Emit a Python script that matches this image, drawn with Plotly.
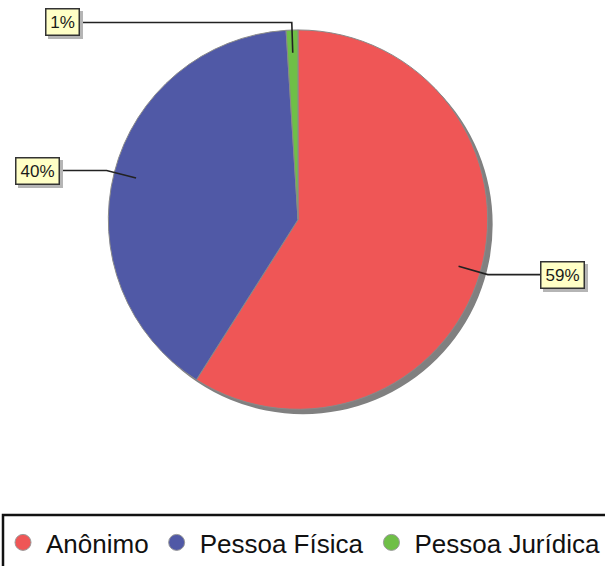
import math
import plotly.graph_objects as go

# data
categories = ["Anônimo", "Pessoa Física", "Pessoa Jurídica"]
values = [59, 40, 1]
labels = ["59%", "40%", "1%"]
colors = ["#EF5656", "#5059A6", "#6FBF47"]

W, H = 605, 566
cx, cy, R = 298, 220, 190          # pie centre / radius in px
shadow_dx, shadow_dy = 5, 5
label_end_x = [540, 60, 80]       # where the horizontal leader ends (px)
label_w = [36, 36, 26]            # label box text widths (px)

fig = go.Figure()

# drop shadow behind the pie
fig.add_trace(go.Pie(
    values=[1],
    marker=dict(colors=["#808080"], line=dict(width=0)),
    textinfo="none", hoverinfo="skip", showlegend=False, sort=False,
    domain=dict(x=[(cx + shadow_dx - R) / W, (cx + shadow_dx + R) / W],
                y=[(H - cy - shadow_dy - R) / H, (H - cy - shadow_dy + R) / H]),
))

fig.add_trace(go.Pie(
    labels=categories,
    values=values,
    sort=False,
    direction="clockwise",
    rotation=0,
    marker=dict(colors=colors, line=dict(color="#8a8a8a", width=1)),
    textinfo="none",
    showlegend=False,
    domain=dict(x=[(cx - R) / W, (cx + R) / W],
                y=[(H - cy - R) / H, (H - cy + R) / H]),
))

# legend entries with round symbols
for name, col in zip(categories, colors):
    fig.add_trace(go.Scatter(
        x=[None], y=[None], mode="markers", name=name,
        marker=dict(size=20, color=col, line=dict(color="#999999", width=1)),
    ))

# leader lines + label boxes, computed from the slice mid angles
shapes = []
annotations = []
total = sum(values)
cum = 0
for v, lab, xend, bw in zip(values, labels, label_end_x, label_w):
    mid = (cum + v / 2) / total * 2 * math.pi
    cum += v
    sx, sy = math.sin(mid), -math.cos(mid)
    x0, y0 = cx + 0.88 * R * sx, cy + 0.88 * R * sy
    x1, y1 = cx + 1.04 * R * sx, cy + 1.04 * R * sy
    shapes.append(dict(
        type="path", xref="x", yref="y", layer="above",
        path=f"M {x0},{y0} L {x1},{y1} L {xend},{y1}",
        line=dict(color="#222222", width=1.6),
    ))
    anchor = "left" if xend > cx else "right"
    # shadow box (no text)
    annotations.append(dict(
        x=xend, y=y1, xref="x", yref="y", text=" ", showarrow=False,
        xanchor=anchor, yanchor="middle", xshift=3, yshift=-3,
        width=bw, height=19,
        font=dict(family="Liberation Sans, Arial", size=17),
        bgcolor="#b5b5b5", bordercolor="#b5b5b5", borderwidth=1.5, borderpad=3,
    ))
    annotations.append(dict(
        x=xend, y=y1, xref="x", yref="y", text=lab, showarrow=False,
        xanchor=anchor, yanchor="middle", width=bw, height=19,
        font=dict(family="Liberation Sans, Arial", size=17, color="#1a1a1a"),
        bgcolor="#FFFFC6", bordercolor="#333333", borderwidth=1.5, borderpad=3,
    ))

# legend frame (runs off the right / bottom edge as in the original)
shapes.append(dict(
    type="rect", xref="paper", yref="paper", layer="above",
    x0=3 / W, x1=1.05, y0=-0.05, y1=(H - 516) / H,
    line=dict(color="#111111", width=2.5), fillcolor="rgba(0,0,0,0)",
))

fig.update_layout(
    width=W, height=H,
    margin=dict(l=0, r=0, t=0, b=0),
    paper_bgcolor="white", plot_bgcolor="white",
    xaxis=dict(range=[0, W], visible=False, fixedrange=True),
    yaxis=dict(range=[H, 0], visible=False, fixedrange=True),
    shapes=shapes,
    annotations=annotations,
    showlegend=True,
    legend=dict(
        orientation="h", x=0.0, xanchor="left", y=(H - 543) / H, yanchor="middle",
        font=dict(family="Liberation Sans, Arial", size=26, color="#111111"),
        bgcolor="rgba(0,0,0,0)", borderwidth=0,
        itemwidth=36, tracegroupgap=0,
    ),
)

fig.write_html("out.html", config={"displayModeBar": False},
               post_script="document.body.style.margin='0px';")
